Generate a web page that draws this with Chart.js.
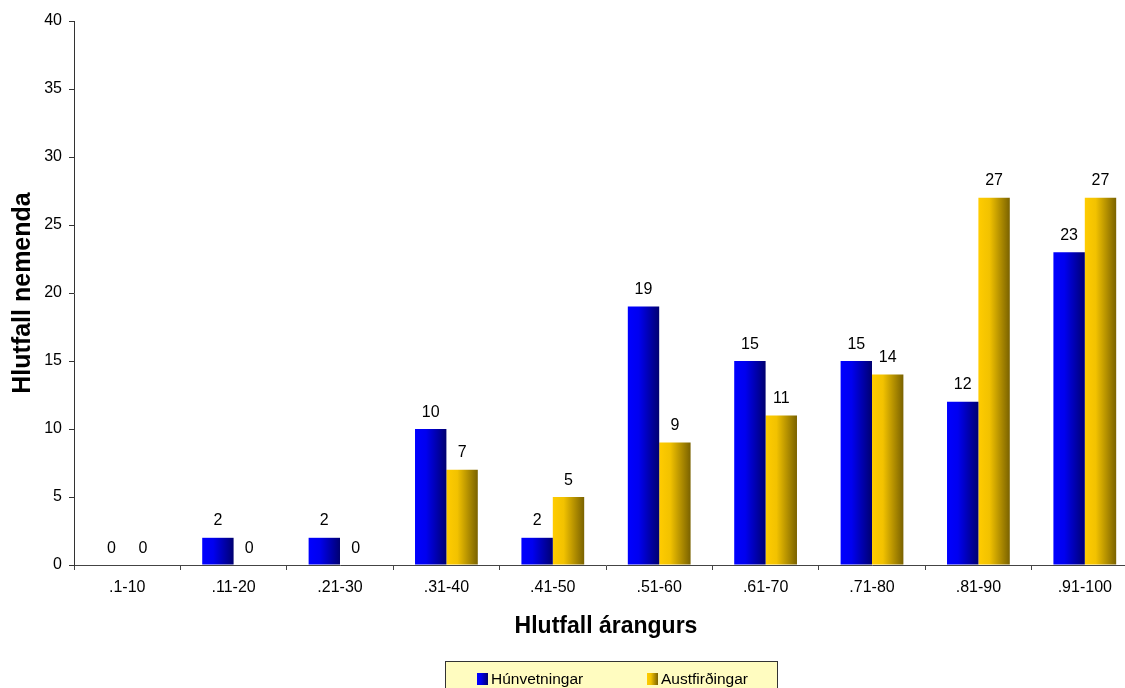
<!DOCTYPE html>
<html><head><meta charset="utf-8">
<script src="https://cdn.jsdelivr.net/npm/chart.js@4.4.1/dist/chart.umd.min.js"></script>
<style>
html,body{margin:0;padding:0;background:#fff;overflow:hidden;width:1125px;height:688px}
#wrap{position:relative;width:1140px;height:688px}
</style></head>
<body><div id="wrap"><canvas id="c" width="1140" height="688"></canvas></div>
<script>
const categories = ['.1-10', '.11-20', '.21-30', '.31-40', '.41-50', '.51-60', '.61-70', '.71-80', '.81-90', '.91-100'];
const hunvetningar = [0, 2, 2, 10, 2, 19, 15, 15, 12, 23];
const austfirdingar = [0, 0, 0, 7, 5, 9, 11, 14, 27, 27];
const yTicks = [0, 5, 10, 15, 20, 25, 30, 35, 40];
const seriesNames = ['Húnvetningar', 'Austfirðingar'];
const xTitle = 'Hlutfall árangurs';
const yTitle = 'Hlutfall nemenda';

const FONT = '"Liberation Sans", Arial, sans-serif';
const CAT_PCT = 0.59;
const blueStops = [[0, '#0000FF'], [0.35, '#0000F0'], [1, '#000070']];
const goldStops = [[0, '#FFCC00'], [0.35, '#F2C200'], [1, '#7A6200']];

function makeGrad(c2d, left, width, stops) {
  const g = c2d.createLinearGradient(left, 0, left + width, 0);
  stops.forEach(s => g.addColorStop(s[0], s[1]));
  return g;
}
function barFill(stops) {
  return function (ctx) {
    const chart = ctx.chart;
    const x = chart.scales && chart.scales.x;
    if (!x || ctx.type !== 'data' || !x.width) return stops[0][1];
    const catW = x.width / categories.length;
    const bw = catW * CAT_PCT / 2;
    const c = x.getPixelForValue(ctx.dataIndex);
    const left = ctx.datasetIndex === 0 ? c - bw : c;
    return makeGrad(chart.ctx, left, bw, stops);
  };
}

const dataLabels = {
  id: 'dataLabels',
  afterDatasetsDraw(chart) {
    const ctx = chart.ctx;
    ctx.save();
    ctx.font = '16px ' + FONT;
    ctx.fillStyle = '#000';
    ctx.textAlign = 'center';
    ctx.textBaseline = 'alphabetic';
    chart.data.datasets.forEach((ds, i) => {
      chart.getDatasetMeta(i).data.forEach((el, j) => {
        ctx.fillText(String(ds.data[j]), el.x, el.y - 12.5);
      });
    });
    ctx.restore();
  }
};

const boxLegend = {
  id: 'boxLegend',
  afterDraw(chart) {
    const ctx = chart.ctx;
    ctx.save();
    ctx.fillStyle = '#FFFCC0';
    ctx.strokeStyle = '#333';
    ctx.lineWidth = 1;
    ctx.fillRect(445.5, 661.5, 332, 40);
    ctx.strokeRect(445.5, 661.5, 332, 40);
    const items = [[477, 491, blueStops], [647, 661, goldStops]];
    ctx.font = '15.5px ' + FONT;
    ctx.textBaseline = 'middle';
    ctx.textAlign = 'left';
    items.forEach((it, i) => {
      ctx.fillStyle = makeGrad(ctx, it[0], 11, it[2]);
      ctx.fillRect(it[0], 673, 11, 12);
      ctx.fillStyle = '#000';
      ctx.fillText(chart.data.datasets[i].label, it[1], 679.5);
    });
    ctx.restore();
  }
};

new Chart(document.getElementById('c'), {
  type: 'bar',
  data: {
    labels: categories,
    datasets: [
      { label: seriesNames[0], data: hunvetningar, backgroundColor: barFill(blueStops), borderWidth: 0 },
      { label: seriesNames[1], data: austfirdingar, backgroundColor: barFill(goldStops), borderWidth: 0 }
    ]
  },
  options: {
    responsive: false,
    animation: false,
    devicePixelRatio: 1,
    datasets: { bar: { categoryPercentage: CAT_PCT, barPercentage: 1 } },
    layout: { padding: { top: 21, right: 2, left: 0, bottom: 0 } },
    plugins: { legend: { display: false }, tooltip: { enabled: false } },
    scales: {
      x: {
        z: 1,
        afterFit: s => { s.height = 123; },
        grid: { drawOnChartArea: false, drawTicks: true, tickLength: 5, color: '#444', offset: true },
        border: { display: true, color: '#444', width: 1 },
        ticks: { color: '#000', font: { family: FONT, size: 16 }, padding: 8, maxRotation: 0, autoSkip: false },
        title: { display: true, text: xTitle, color: '#000', font: { family: FONT, size: 23, weight: 'bold' }, padding: { top: 0, bottom: 48 } }
      },
      y: {
        min: 0, max: 40,
        afterBuildTicks: s => { s.ticks = yTicks.map(v => ({ value: v })); },
        afterFit: s => { s.width = 74; },
        grid: { drawOnChartArea: false, drawTicks: true, tickLength: 5, color: '#333' },
        border: { display: true, color: '#333', width: 1 },
        ticks: { color: '#000', font: { family: FONT, size: 16 }, padding: 7 },
        title: { display: true, text: yTitle, color: '#000', font: { family: FONT, size: 25, weight: 'bold' }, padding: { top: 8, bottom: 0 } }
      }
    }
  },
  plugins: [dataLabels, boxLegend]
});
</script>
</body></html>
